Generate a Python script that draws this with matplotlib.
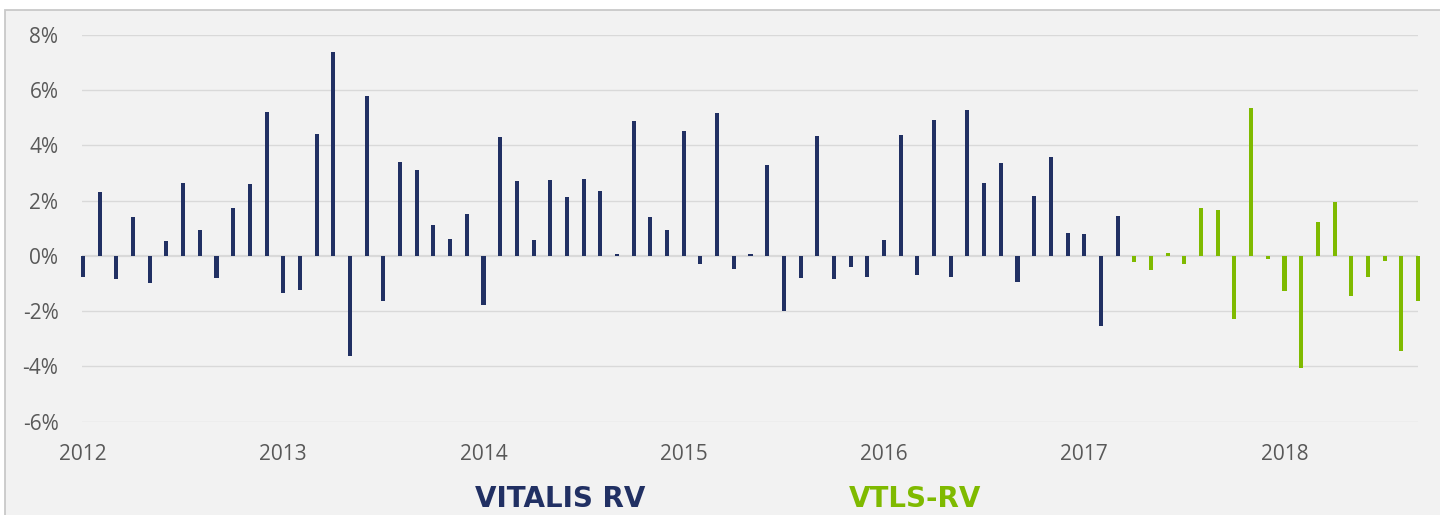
import numpy as np
import matplotlib
matplotlib.use("Agg")
import matplotlib.pyplot as plt
from matplotlib.patches import Rectangle

# monthly returns (%), VITALIS RV from Jan 2012, VTLS-RV from Apr 2017
vitalis_start = (2012, 1)
vitalis_rv = [
    -0.77, 2.31, -0.82, 1.42, -0.99, 0.53, 2.64, 0.94, -0.80, 1.72, 2.60, 5.20,
    -1.33, -1.23, 4.40, 7.39, -3.61, 5.80, -1.65, 3.40, 3.11, 1.13, 0.60, 1.51,
    -1.77, 4.29, 2.69, 0.58, 2.75, 2.14, 2.78, 2.36, 0.07, 4.89, 1.39, 0.92,
    4.53, -0.30, 5.16, -0.48, 0.07, 3.29, -1.98, -0.81, 4.35, -0.82, -0.39, -0.77,
    0.58, 4.36, -0.69, 4.90, -0.76, 5.28, 2.63, 3.37, -0.93, 2.18, 3.57, 0.82,
    0.78, -2.52, 1.45,
]
vtls_start = (2017, 4)
vtls_rv = [
    -0.24, -0.53, 0.12, -0.30, 1.72, 1.66, -2.29, 5.36, -0.11,
    -1.27, -4.06, 1.22, 1.94, -1.47, -0.75, -0.18, -3.46, -1.63,
]
years = [2012, 2013, 2014, 2015, 2016, 2017, 2018]
y_ticks = [-6, -4, -2, 0, 2, 4, 6, 8]

navy = '#213063'
green = '#7fba00'
grey_text = '#595959'


def month_index(start, n):
    """Months elapsed since Jan 2012 for n consecutive months from start."""
    first = (start[0] - 2012) * 12 + start[1] - 1
    return np.arange(first, first + n)


fig = plt.figure(figsize=(14.4, 5.15), dpi=100)
W, H = 1440, 515

# grey panel behind the chart
fig.patches.append(Rectangle(
    (5 / W, -0.05), 1.05, (H - 10) / H + 0.05, transform=fig.transFigure,
    facecolor='#f2f2f2', edgecolor='#c9c9c9', linewidth=1.3, zorder=-10))

ax = fig.add_axes([82 / W, 1 - 421.7 / H, (1418 - 82) / W, (421.7 - 34.7) / H])
ax.set_facecolor('none')

# gridlines
for v in y_ticks:
    ax.axhline(v, color='#d9d9d9', linewidth=1.6 if v == 0 else 1.0, zorder=0)

# monthly bars
ax.bar(month_index(vitalis_start, len(vitalis_rv)), vitalis_rv,
       width=0.24, color=navy, zorder=2, clip_on=False)
ax.bar(month_index(vtls_start, len(vtls_rv)), vtls_rv,
       width=0.24, color=green, zorder=2, clip_on=False)

ax.set_xlim(-0.06, 80.0)
ax.set_ylim(-6, 8)
ax.set_yticks(y_ticks)
ax.set_yticklabels(['{:d}%'.format(v) for v in y_ticks])
ax.set_xticks([(y - 2012) * 12 for y in years])
ax.set_xticklabels([str(y) for y in years])
ax.tick_params(axis='both', length=0, colors=grey_text, labelsize=15)
ax.tick_params(axis='y', pad=17)
ax.tick_params(axis='x', pad=16)
for lab in ax.get_xticklabels() + ax.get_yticklabels():
    lab.set_fontfamily('Open Sans')
for s in ax.spines.values():
    s.set_visible(False)

# series names
fig.text(475 / W, (H - 507) / H, 'VITALIS RV', color=navy, fontsize=20,
         fontweight='bold', family='DejaVu Sans', va='baseline')
fig.text(849 / W, (H - 507) / H, 'VTLS-RV', color=green, fontsize=20,
         fontweight='bold', family='DejaVu Sans', va='baseline')

fig.savefig('out.png', dpi=100)
